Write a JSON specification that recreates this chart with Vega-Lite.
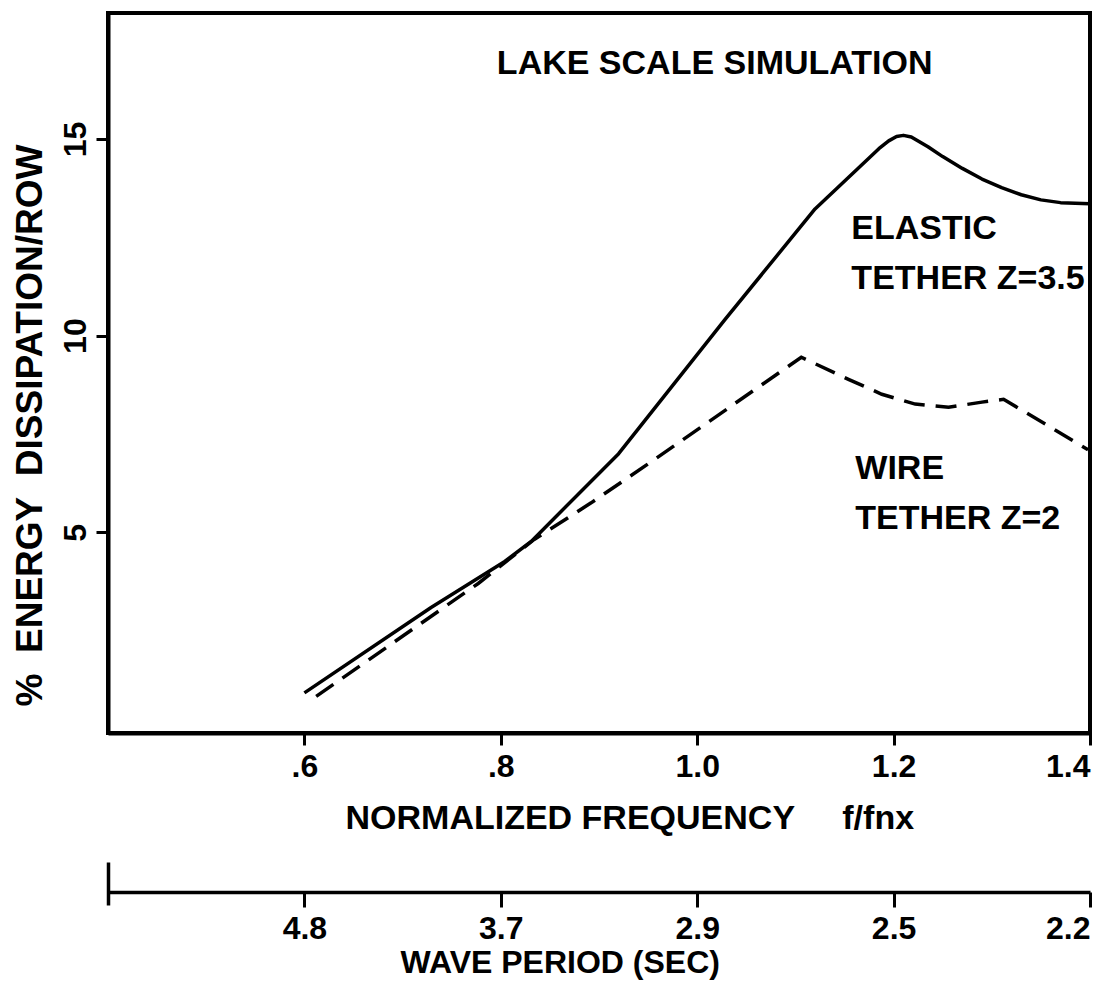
{
  "$schema": "https://vega.github.io/schema/vega-lite/v6.json",
  "width": 982,
  "height": 720,
  "autosize": "none",
  "padding": {"left": 108, "top": 13, "right": 17, "bottom": 263},
  "background": "white",
  "config": {
    "view": {"stroke": "black", "strokeWidth": 4},
    "font": "Liberation Sans",
    "axis": {
      "grid": false,
      "labelFont": "Liberation Sans",
      "titleFont": "Liberation Sans",
      "labelFontWeight": "bold",
      "titleFontWeight": "bold",
      "labelColor": "black",
      "titleColor": "black",
      "domainColor": "black",
      "tickColor": "black"
    }
  },
  "datasets": {
    "elastic": [
      {"f": 0.600, "dissipation": 0.92},
      {"f": 0.729, "dissipation": 3.09},
      {"f": 0.804, "dissipation": 4.26},
      {"f": 0.831, "dissipation": 4.77},
      {"f": 0.920, "dissipation": 7.00},
      {"f": 1.028, "dissipation": 10.40},
      {"f": 1.120, "dissipation": 13.22},
      {"f": 1.185, "dissipation": 14.75},
      {"f": 1.195, "dissipation": 14.95},
      {"f": 1.203, "dissipation": 15.06},
      {"f": 1.210, "dissipation": 15.09},
      {"f": 1.218, "dissipation": 15.05},
      {"f": 1.235, "dissipation": 14.80},
      {"f": 1.250, "dissipation": 14.55},
      {"f": 1.270, "dissipation": 14.25},
      {"f": 1.290, "dissipation": 13.98},
      {"f": 1.310, "dissipation": 13.76},
      {"f": 1.330, "dissipation": 13.58},
      {"f": 1.350, "dissipation": 13.45},
      {"f": 1.370, "dissipation": 13.38},
      {"f": 1.400, "dissipation": 13.35}
    ],
    "wire": [
      {"f": 0.612, "dissipation": 0.83},
      {"f": 0.777, "dissipation": 3.70},
      {"f": 0.834, "dissipation": 4.82},
      {"f": 0.892, "dissipation": 5.75},
      {"f": 0.957, "dissipation": 6.86},
      {"f": 1.106, "dissipation": 9.45},
      {"f": 1.154, "dissipation": 8.89},
      {"f": 1.188, "dissipation": 8.51},
      {"f": 1.222, "dissipation": 8.26},
      {"f": 1.256, "dissipation": 8.18},
      {"f": 1.290, "dissipation": 8.31},
      {"f": 1.312, "dissipation": 8.38},
      {"f": 1.358, "dissipation": 7.70},
      {"f": 1.398, "dissipation": 7.10}
    ],
    "annotations": [
      {"label": "LAKE SCALE SIMULATION", "f": 0.796, "dissipation": 16.65},
      {"label": "ELASTIC", "f": 1.157, "dissipation": 12.46},
      {"label": "TETHER Z=3.5", "f": 1.157, "dissipation": 11.18},
      {"label": "WIRE", "f": 1.161, "dissipation": 6.35},
      {"label": "TETHER Z=2", "f": 1.161, "dissipation": 5.08}
    ]
  },
  "layer": [
    {
      "data": {"name": "elastic"},
      "mark": {"type": "line", "interpolate": "linear", "color": "black", "strokeWidth": 3.5, "strokeJoin": "round"},
      "encoding": {
        "x": {
          "field": "f", "type": "quantitative",
          "scale": {"domain": [0.4, 1.4], "nice": false, "zero": false},
          "axis": {
            "title": "NORMALIZED FREQUENCY\u00a0\u00a0\u00a0\u00a0 f/fnx",
            "values": [0.6, 0.8, 1.0, 1.2, 1.4],
            "labelExpr": "datum.value == 0.6 ? '.6' : datum.value == 0.8 ? '.8' : format(datum.value, '.1f')",
            "domainWidth": 4,
            "tickSize": 12,
            "tickWidth": 3,
            "labelFontSize": 32,
            "labelPadding": 6,
            "labelFlush": true,
            "labelOverlap": false,
            "titleFontSize": 34,
            "titleAnchor": "start",
            "titleAlign": "left",
            "titleX": 237,
            "titleY": 85,
            "titleBaseline": "middle"
          }
        },
        "y": {
          "field": "dissipation", "type": "quantitative",
          "scale": {"domain": [-0.1, 18.2], "nice": false, "zero": false},
          "axis": {
            "title": "%\u00a0 ENERGY\u00a0 DISSIPATION/ROW",
            "values": [5, 10, 15],
            "labelAngle": -90,
            "labelAlign": "center",
            "labelBaseline": "middle",
            "labelFontSize": 32,
            "labelPadding": 21,
            "tickSize": 12,
            "tickWidth": 3,
            "domainWidth": 4,
            "titleFontSize": 37,
            "titleAngle": 270,
            "titleAlign": "center",
            "titleBaseline": "middle",
            "titleX": -78,
            "titleY": 412
          }
        }
      }
    },
    {
      "data": {"name": "wire"},
      "mark": {"type": "line", "interpolate": "linear", "color": "black", "strokeWidth": 3.5, "strokeDash": [21, 11]},
      "encoding": {
        "x": {"field": "f", "type": "quantitative", "axis": null},
        "y": {"field": "dissipation", "type": "quantitative", "axis": null}
      }
    },
    {
      "data": {"name": "annotations"},
      "mark": {"type": "text", "align": "left", "baseline": "alphabetic", "fontSize": 34, "fontWeight": "bold", "font": "Liberation Sans", "color": "black"},
      "encoding": {
        "x": {"field": "f", "type": "quantitative", "axis": null},
        "y": {"field": "dissipation", "type": "quantitative", "axis": null},
        "text": {"field": "label"}
      }
    },
    {
      "data": {"name": "elastic"},
      "mark": {"type": "point", "opacity": 0},
      "encoding": {
        "x": {
          "field": "f", "type": "quantitative",
          "axis": {
            "orient": "bottom",
            "offset": 159,
            "title": "WAVE PERIOD (SEC)",
            "values": [0.6, 0.8, 1.0, 1.2, 1.4],
            "labelExpr": "datum.value == 0.6 ? '4.8' : datum.value == 0.8 ? '3.7' : datum.value == 1 ? '2.9' : datum.value == 1.2 ? '2.5' : '2.2'",
            "domainWidth": 3.5,
            "tickSize": 15,
            "tickWidth": 3,
            "labelFontSize": 32,
            "labelPadding": 6,
            "labelFlush": true,
            "labelOverlap": false,
            "titleFontSize": 32,
            "titleAnchor": "start",
            "titleAlign": "left",
            "titleX": 292,
            "titleY": 70,
            "titleBaseline": "middle"
          }
        },
        "y": {"field": "dissipation", "type": "quantitative", "axis": null}
      }
    },
    {
      "data": {"name": "elastic"},
      "mark": {"type": "point", "opacity": 0},
      "encoding": {
        "x": {
          "field": "f", "type": "quantitative",
          "axis": {
            "orient": "bottom",
            "offset": 129,
            "title": null,
            "values": [0.4],
            "domain": false,
            "labels": false,
            "tickSize": 43,
            "tickWidth": 3.5
          }
        },
        "y": {"field": "dissipation", "type": "quantitative", "axis": null}
      }
    }
  ],
  "resolve": {"axis": {"x": "independent", "y": "independent"}}
}
